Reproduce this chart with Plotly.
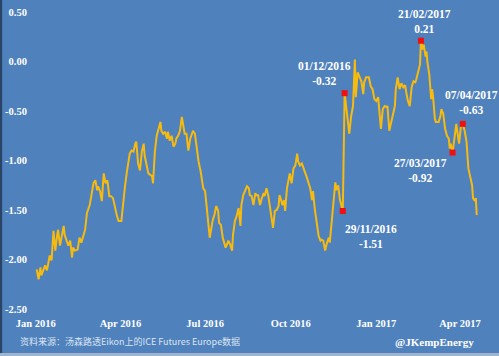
import plotly.graph_objects as go

dates = [
    "2016-01-05", "2016-01-07", "2016-01-09", "2016-01-10", "2016-01-14", "2016-01-16", "2016-01-19", "2016-01-21",
    "2016-01-23", "2016-01-25", "2016-01-27", "2016-01-28", "2016-01-30", "2016-02-01", "2016-02-03", "2016-02-04",
    "2016-02-06", "2016-02-08", "2016-02-10", "2016-02-12", "2016-02-13", "2016-02-15", "2016-02-18", "2016-02-20",
    "2016-02-22", "2016-02-24", "2016-02-26", "2016-02-28", "2016-03-02", "2016-03-06", "2016-03-08", "2016-03-10",
    "2016-03-11", "2016-03-13", "2016-03-15", "2016-03-17", "2016-03-19", "2016-03-21", "2016-03-23", "2016-03-25",
    "2016-03-27", "2016-03-31", "2016-04-02", "2016-04-05", "2016-04-07", "2016-04-09", "2016-04-11", "2016-04-13",
    "2016-04-14", "2016-04-16", "2016-04-18", "2016-04-20", "2016-04-21", "2016-04-23", "2016-04-25", "2016-04-27",
    "2016-04-29", "2016-04-30", "2016-05-04", "2016-05-08", "2016-05-09", "2016-05-11", "2016-05-13", "2016-05-15",
    "2016-05-17", "2016-05-18", "2016-05-20", "2016-05-22", "2016-05-24", "2016-05-25", "2016-05-27", "2016-05-29",
    "2016-05-31", "2016-06-02", "2016-06-03", "2016-06-05", "2016-06-07", "2016-06-09", "2016-06-11", "2016-06-12",
    "2016-06-14", "2016-06-16", "2016-06-18", "2016-06-20", "2016-06-21", "2016-06-23", "2016-06-25", "2016-06-27",
    "2016-06-29", "2016-06-30", "2016-07-02", "2016-07-04", "2016-07-06", "2016-07-08", "2016-07-09", "2016-07-12",
    "2016-07-14", "2016-07-16", "2016-07-18", "2016-07-19", "2016-07-21", "2016-07-23", "2016-07-26", "2016-07-27",
    "2016-07-29", "2016-07-31", "2016-08-02", "2016-08-03", "2016-08-05", "2016-08-07", "2016-08-09", "2016-08-11",
    "2016-08-12", "2016-08-14", "2016-08-16", "2016-08-18", "2016-08-20", "2016-08-21", "2016-08-23", "2016-08-25",
    "2016-08-27", "2016-08-28", "2016-08-30", "2016-09-01", "2016-09-03", "2016-09-05", "2016-09-06", "2016-09-08",
    "2016-09-10", "2016-09-12", "2016-09-14", "2016-09-15", "2016-09-17", "2016-09-19", "2016-09-21", "2016-09-22",
    "2016-09-24", "2016-09-25", "2016-09-27", "2016-09-28", "2016-09-30", "2016-10-02", "2016-10-03", "2016-10-05",
    "2016-10-07", "2016-10-09", "2016-10-11", "2016-10-12", "2016-10-14", "2016-10-16", "2016-10-18", "2016-10-19",
    "2016-10-21", "2016-10-23", "2016-10-25", "2016-10-27", "2016-10-28", "2016-10-30", "2016-11-01", "2016-11-03",
    "2016-11-05", "2016-11-06", "2016-11-08", "2016-11-10", "2016-11-12", "2016-11-14", "2016-11-15", "2016-11-17",
    "2016-11-19", "2016-11-21", "2016-11-22", "2016-11-24", "2016-11-26", "2016-11-28", "2016-11-29", "2016-12-01",
    "2016-12-03", "2016-12-04", "2016-12-06", "2016-12-08", "2016-12-10", "2016-12-12", "2016-12-13", "2016-12-15",
    "2016-12-17", "2016-12-19", "2016-12-21", "2016-12-22", "2016-12-24", "2016-12-27", "2016-12-29", "2016-12-31",
    "2017-01-02", "2017-01-04", "2017-01-06", "2017-01-07", "2017-01-09", "2017-01-11", "2017-01-13", "2017-01-15",
    "2017-01-16", "2017-01-18", "2017-01-20", "2017-01-22", "2017-01-24", "2017-01-25", "2017-01-27", "2017-01-29",
    "2017-01-31", "2017-02-02", "2017-02-04", "2017-02-05", "2017-02-07", "2017-02-09", "2017-02-11", "2017-02-13",
    "2017-02-15", "2017-02-16", "2017-02-18", "2017-02-20", "2017-02-21", "2017-02-23", "2017-02-24", "2017-02-26",
    "2017-02-27", "2017-02-28", "2017-03-02", "2017-03-04", "2017-03-05", "2017-03-06", "2017-03-08", "2017-03-09",
    "2017-03-12", "2017-03-14", "2017-03-15", "2017-03-17", "2017-03-19", "2017-03-21", "2017-03-23", "2017-03-24",
    "2017-03-25", "2017-03-27", "2017-03-29", "2017-03-31", "2017-04-01", "2017-04-03", "2017-04-05", "2017-04-07",
    "2017-04-09", "2017-04-11", "2017-04-13", "2017-04-15", "2017-04-17", "2017-04-18", "2017-04-20", "2017-04-21",
    "2017-04-22",
]

values = [
    -2.10, -2.20, -2.08, -2.16, -2.06, -2.11, -1.96, -2.01,
    -1.71, -1.91, -1.75, -1.70, -1.86, -1.76, -1.66, -1.75,
    -1.80, -1.86, -1.81, -1.98, -1.88, -1.91, -1.90, -1.78,
    -1.83, -1.76, -1.70, -1.53, -1.45, -1.23, -1.20, -1.30,
    -1.26, -1.31, -1.41, -1.13, -1.23, -1.20, -1.36, -1.36,
    -1.38, -1.55, -1.61, -1.61, -1.41, -1.25, -1.11, -0.96,
    -0.93, -0.90, -0.91, -0.83, -0.81, -1.03, -1.10, -0.91,
    -0.83, -0.95, -1.13, -1.16, -1.23, -0.91, -0.75, -0.68,
    -0.61, -0.70, -0.73, -0.71, -0.78, -0.71, -0.80, -0.75,
    -0.86, -0.83, -0.78, -0.75, -0.70, -0.56, -0.70, -0.73,
    -0.73, -0.90, -0.78, -0.71, -0.70, -0.73, -0.88, -1.01,
    -1.10, -1.16, -1.28, -1.31, -1.48, -1.68, -1.78, -1.61,
    -1.55, -1.46, -1.51, -1.63, -1.65, -1.78, -1.88, -1.86,
    -1.81, -1.85, -1.91, -1.75, -1.61, -1.56, -1.48, -1.66,
    -1.45, -1.35, -1.30, -1.26, -1.28, -1.35, -1.36, -1.45,
    -1.33, -1.35, -1.35, -1.45, -1.38, -1.33, -1.36, -1.28,
    -1.36, -1.48, -1.58, -1.68, -1.51, -1.50, -1.46, -1.35,
    -1.41, -1.45, -1.40, -1.51, -1.28, -1.18, -1.13, -1.23,
    -1.08, -1.05, -0.93, -1.01, -1.05, -1.03, -1.10, -1.11,
    -1.16, -1.21, -1.28, -1.40, -1.31, -1.50, -1.63, -1.76,
    -1.81, -1.80, -1.81, -1.91, -1.83, -1.78, -1.83, -1.60,
    -1.40, -1.22, -1.30, -1.25, -1.40, -1.50, -1.51, -0.32,
    -0.48, -0.58, -0.73, -0.55, -0.45, 0.02, -0.36, -0.11,
    -0.16, -0.20, -0.33, -0.21, -0.16, -0.16, -0.25, -0.28,
    -0.38, -0.40, -0.36, -0.48, -0.68, -0.48, -0.45, -0.46,
    -0.45, -0.70, -0.61, -0.53, -0.45, -0.28, -0.16, -0.28,
    -0.22, -0.26, -0.24, -0.30, -0.40, -0.45, -0.26, -0.20,
    -0.21, -0.18, -0.10, -0.03, 0.21, 0.12, 0.17, 0.05,
    0.10, -0.01, -0.13, -0.38, -0.28, -0.35, -0.58, -0.61,
    -0.61, -0.55, -0.48, -0.53, -0.68, -0.75, -0.78, -0.88,
    -0.83, -0.92, -0.78, -0.63, -0.70, -0.83, -0.65, -0.63,
    -0.70, -0.81, -1.08, -1.18, -1.25, -1.38, -1.41, -1.38,
    -1.55,
]

marker_dates = ["2016-11-29", "2016-12-01", "2017-02-21", "2017-03-27", "2017-04-07"]
marker_values = [-1.51, -0.32, 0.21, -0.92, -0.63]
marker_labels = ["29/11/2016<br>-1.51", "01/12/2016<br>-0.32", "21/02/2017<br>0.21",
                 "27/03/2017<br>-0.92", "07/04/2017<br>-0.63"]

y_tickvals = [0.5, 0.0, -0.5, -1.0, -1.5, -2.0, -2.5]
y_ticktext = ["0.50", "0.00", "-0.50", "-1.00", "-1.50", "-2.00", "-2.50"]
x_tickvals = ["2016-01-04", "2016-04-04", "2016-07-04", "2016-10-04", "2017-01-04", "2017-04-04"]
x_ticktext = ["Jan 2016", "Apr 2016", "Jul 2016", "Oct 2016", "Jan 2017", "Apr 2017"]

source_text = "资料来源：汤森路透Eikon上的ICE Futures Europe数据"
credit_text = "@JKempEnergy"

BG = "#4F81BD"
SERIF = "Liberation Serif"

fig = go.Figure()
fig.add_trace(go.Scatter(
    x=dates, y=values, mode="lines",
    line=dict(color="#F7BA0F", width=2),
    hoverinfo="skip", showlegend=False,
))
fig.add_trace(go.Scatter(
    x=marker_dates, y=marker_values, mode="markers",
    marker=dict(symbol="square", size=6, color="#F01010"),
    hoverinfo="skip", showlegend=False,
))

# label placement offsets (pixels) relative to each marker
label_pos = [
    dict(xshift=28, yshift=-10, yanchor="top"),
    dict(xshift=-20, yshift=4, yanchor="bottom"),
    dict(xshift=4, yshift=4, yanchor="bottom"),
    dict(xshift=-32, yshift=-2, yanchor="top"),
    dict(xshift=9, yshift=6, yanchor="bottom"),
]
for d, v, t, p in zip(marker_dates, marker_values, marker_labels, label_pos):
    fig.add_annotation(
        x=d, y=v, xref="x", yref="y", text=t, showarrow=False,
        xanchor="center", align="center",
        font=dict(family=SERIF, size=11.5, color="white", weight="bold"),
        **p,
    )

fig.add_annotation(
    x=-0.034, y=-0.111, xref="paper", yref="paper", text=source_text, showarrow=False,
    xanchor="left", yanchor="middle",
    font=dict(family="Noto Sans CJK SC", size=9, color="#DCE4F0"),
)
fig.add_annotation(
    x=0.99, y=-0.111, xref="paper", yref="paper", text=credit_text, showarrow=False,
    xanchor="right", yanchor="middle",
    font=dict(family=SERIF, size=11, color="white", weight="bold"),
)

# dark left edge and light bottom edge of the picture frame
fig.add_shape(type="rect", xref="paper", yref="paper", x0=-0.0745, x1=-0.069, y0=-0.2, y1=1.05,
              fillcolor="#2A4468", line=dict(width=0), layer="above")
fig.add_shape(type="rect", xref="paper", yref="paper", x0=-0.08, x1=1.05, y0=-0.158, y1=-0.148,
              fillcolor="#9FB3CF", line=dict(width=0), layer="above")

fig.update_layout(
    width=499, height=356,
    margin=dict(l=33, r=19, t=12, b=47, autoexpand=False),
    paper_bgcolor=BG, plot_bgcolor=BG,
    showlegend=False,
    xaxis=dict(
        type="date", range=["2016-01-01", "2017-04-25 12:00"],
        tickvals=x_tickvals, ticktext=x_ticktext, automargin=False,
        showgrid=False, zeroline=False, showline=False,
        ticks="outside", ticklen=4, tickcolor="rgba(0,0,0,0)",
        tickfont=dict(family=SERIF, size=10.5, color="white", weight="bold"),
    ),
    yaxis=dict(
        range=[-2.5, 0.5], tickvals=y_tickvals, ticktext=y_ticktext, automargin=False,
        showgrid=False, zeroline=False, showline=False,
        ticks="outside", ticklen=3, tickcolor="rgba(0,0,0,0)",
        tickfont=dict(family=SERIF, size=10.5, color="white", weight="bold"),
    ),
)

fig.write_html(
    "out.html",
    config={"displayModeBar": False},
    post_script="document.body.style.margin='0';document.body.style.padding='0';"
                "document.body.style.overflow='hidden';document.body.style.background='" + BG + "';",
)
